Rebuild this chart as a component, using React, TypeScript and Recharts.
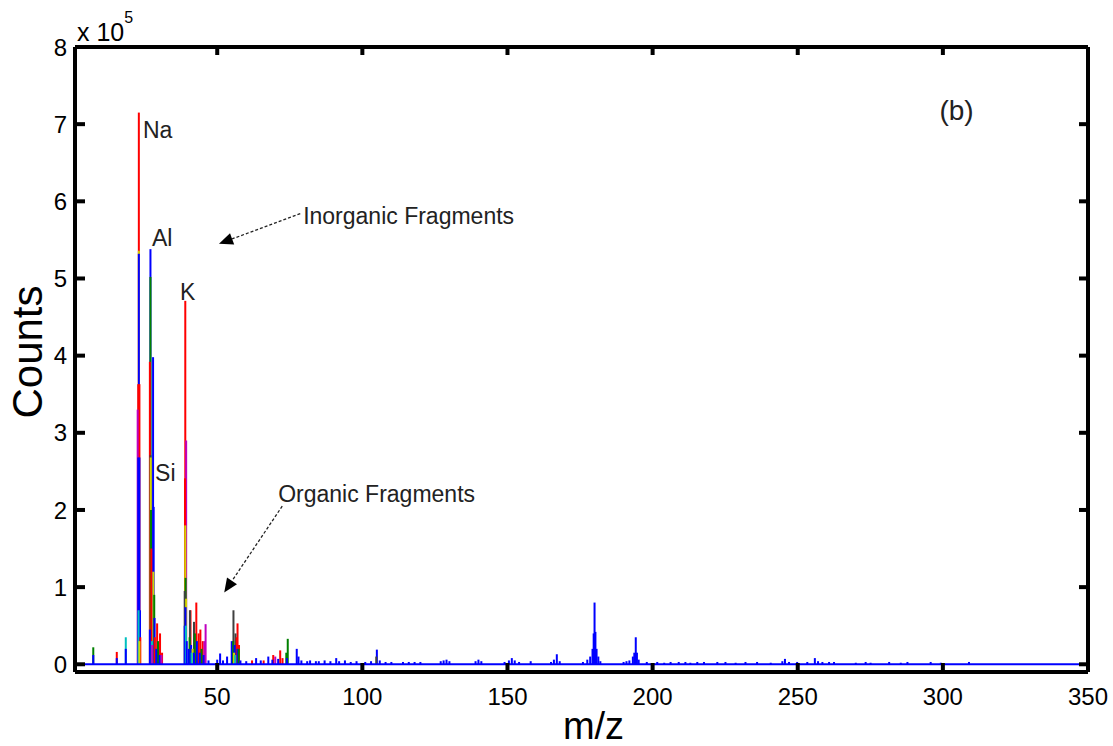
import React from 'react'
import { ComposedChart, Bar, Line, Cell, XAxis, YAxis, ReferenceLine, ReferenceDot, Label } from 'recharts'

// overlaid spectra, one list per trace colour: [m/z, counts / 1e5]
const bluePeaks: [number, number][] = [
  [7.3, 0.12], [15.4, 0.08], [18.5, 0.2], [22.8, 2.68], [23, 5.32], [23.2, 2.68], [23.4, 0.7],
  [26.8, 0.45], [27, 5.38], [27.9, 3.98], [28.1, 2.04], [28.4, 0.6], [29, 0.2], [30.2, 0.12],
  [38.8, 0.5], [39.1, 0.74], [39.5, 0.3], [40.2, 0.2], [41, 0.25], [42, 0.15], [43, 0.3], [44, 0.15],
  [45.3, 0.12], [47, 0.05], [50, 0.06], [51, 0.14], [52, 0.05], [53.4, 0.1], [55, 0.3], [56, 0.25],
  [57, 0.2], [58, 0.05], [60, 0.04], [63.4, 0.08], [65, 0.05], [67.6, 0.1], [69, 0.06], [71, 0.07],
  [74, 0.08], [77.4, 0.2], [78, 0.1], [79, 0.05], [81, 0.04], [82, 0.05], [84, 0.04], [85, 0.04],
  [87, 0.05], [89, 0.04], [91, 0.08], [92, 0.04], [94, 0.05], [96, 0.03], [98, 0.04], [101, 0.03],
  [103, 0.04], [105, 0.19], [106, 0.05], [108, 0.03], [110, 0.03], [114, 0.03], [116, 0.03],
  [118, 0.03], [120, 0.03], [127, 0.04], [128, 0.05], [129, 0.06], [130, 0.04], [139, 0.04],
  [140, 0.06], [141, 0.04], [149, 0.03], [150.5, 0.05], [151.5, 0.08], [152.5, 0.05], [154, 0.03],
  [158, 0.04], [165, 0.03], [166, 0.06], [167, 0.13], [168, 0.04], [176, 0.03], [177.5, 0.06],
  [178.5, 0.1], [179.3, 0.2], [179.7, 0.4], [180, 0.8], [180.3, 0.42], [180.7, 0.2], [181.3, 0.1],
  [182, 0.04], [190, 0.03], [191, 0.04], [192, 0.05], [193.2, 0.1], [193.7, 0.15], [194.2, 0.35],
  [194.6, 0.15], [195.2, 0.06], [198, 0.03], [201.6, 0.03], [204, 0.02], [206.2, 0.03], [209, 0.03],
  [211.3, 0.03], [213, 0.02], [215.4, 0.03], [217.7, 0.03], [222.3, 0.03], [225.1, 0.03],
  [228.6, 0.02], [232, 0.03], [236, 0.03], [240.7, 0.02], [244.7, 0.04], [245.6, 0.07], [247, 0.03],
  [249.8, 0.03], [253.3, 0.03], [255.9, 0.08], [257, 0.04], [258.5, 0.03], [260.8, 0.03],
  [262.5, 0.03], [270, 0.02], [273.4, 0.03], [275.1, 0.02], [281.5, 0.03], [285.5, 0.02],
  [287.8, 0.03], [295.8, 0.03], [299.3, 0.02], [309, 0.03],
]
const redPeaks: [number, number][] = [
  [15.4, 0.16], [23, 7.15], [22.8, 3.63], [23.2, 3.63], [23.5, 0.35], [26.8, 3.92], [27.3, 1.5],
  [28.5, 0.35], [29.3, 0.53], [30.3, 0.4], [31, 0.15], [38.9, 2.41], [39, 4.71], [40.8, 0.7],
  [42.8, 0.8], [43.6, 0.4], [44.2, 0.45], [45, 0.3], [56.7, 0.35], [57, 0.53], [57.5, 0.25],
  [62, 0.05], [66, 0.05], [69.3, 0.12], [71.7, 0.18], [72.5, 0.08],
]
const greenPeaks: [number, number][] = [
  [7.3, 0.22], [27, 5.02], [27.2, 2.0], [28.3, 0.9], [29.6, 0.3], [39.1, 1.12], [40.5, 0.35],
  [42.3, 0.4], [44.6, 0.2], [55.5, 0.3], [57.4, 0.2], [73.8, 0.15], [74.3, 0.33],
]
const yellowPeaks: [number, number][] = [
  [23, 5.36], [23.2, 0.3], [27.1, 2.68], [28, 1.2], [39, 1.8], [39.3, 0.85], [41.5, 0.2], [55.8, 0.15],
]
const magentaPeaks: [number, number][] = [
  [22.6, 3.3], [27.6, 0.25], [30.8, 0.12], [39.3, 2.9], [45.6, 0.3], [46, 0.52], [70, 0.1],
]
const cyanPeaks: [number, number][] = [
  [18.5, 0.35], [22.9, 0.7], [27.5, 0.3], [39.2, 0.5], [41.2, 0.15], [56.2, 0.12],
]
const darkPeaks: [number, number][] = [
  [27, 2.71], [38.8, 0.95], [40.6, 0.7], [42, 0.55], [55.6, 0.7], [56.3, 0.4], [104.8, 0.1],
]

const xTicks = [50, 100, 150, 200, 250, 300, 350]
const yTicks = [0, 1, 2, 3, 4, 5, 6, 7, 8].map(v => v * 1e5)
const X_MIN = 1, Y_MIN = -10000

const traces = [
  { color: '#0000ff', peaks: bluePeaks },
  { color: '#ff0000', peaks: redPeaks },
  { color: '#008000', peaks: greenPeaks },
  { color: '#d4d400', peaks: yellowPeaks },
  { color: '#bf00bf', peaks: magentaPeaks },
  { color: '#00bfbf', peaks: cyanPeaks },
  { color: '#404040', peaks: darkPeaks },
]

// tallest first so the shorter traces sit on top of them
const rows = traces
  .flatMap(t => t.peaks.map(([mz, v]) => ({ mz, counts: v * 1e5, color: t.color })))
  .sort((a, b) => b.counts - a.counts)

const labels = [
  { text: 'Na', mz: 24.4, y: 6.82, size: 23 },
  { text: 'Al', mz: 27.5, y: 5.42, size: 23 },
  { text: 'K', mz: 37.2, y: 4.72, size: 23 },
  { text: 'Si', mz: 28.6, y: 2.37, size: 23 },
  { text: '(b)', mz: 298.8, y: 7.06, size: 28 },
  { text: 'Inorganic Fragments', mz: 79.6, y: 5.71, size: 23 },
  { text: 'Organic Fragments', mz: 71, y: 2.1, size: 23 },
]
const arrows = [
  { from: [78.6, 5.84], to: [50.6, 5.45] },
  { from: [72.4, 2.05], to: [52.4, 0.93] },
]

const font = '"Liberation Sans", Arial, Helvetica, sans-serif'
const GAP = 16
const frame = { stroke: '#000', strokeWidth: 4 }

const BottomLabel = ({ x, y, payload }: any) => (
  <text x={x} y={y} dy="0.71em" textAnchor="middle" fontSize={24} fontFamily={font} fill="#000">{payload.value}</text>
)
const LeftLabel = ({ x, y, payload }: any) => (
  <text x={x} y={y} dy="0.36em" textAnchor="end" fontSize={24} fontFamily={font} fill="#000">{payload.value / 1e5}</text>
)
const TopMark = ({ x, y }: any) => <line x1={x} y1={y + GAP} x2={x} y2={y + GAP + 8} stroke="#000" strokeWidth={4} />
const RightMark = ({ x, y }: any) => <line x1={x - GAP} y1={y} x2={x - GAP - 9} y2={y} stroke="#000" strokeWidth={4} />

// inward tick marks on bottom / left edges, anchored at the domain minimum
const UpNotch = ({ cx, cy }: any) => <rect x={cx - 2} y={cy - 9} width={4} height={9} fill="#000" />
const RightNotch = ({ cx, cy }: any) => <rect x={cx} y={cy - 2} width={10} height={4} fill="#000" />

// draw each peak as a thin stem centred on its m/z
const Stem = ({ x, y, width, height, fill }: any) => {
  if (!height || height <= 0) return null
  return <rect x={x + width / 2 - 1} y={y} width={2} height={height} fill={fill} />
}

const Arrow = ({ x1, y1, x2, y2 }: any) => {
  const a = Math.atan2(y2 - y1, x2 - x1)
  const L = 14, W = 6
  const bx = x2 - L * Math.cos(a), by = y2 - L * Math.sin(a)
  const pts = `${x2},${y2} ${bx + W * Math.sin(a)},${by - W * Math.cos(a)} ${bx - W * Math.sin(a)},${by + W * Math.cos(a)}`
  return (
    <g>
      <line x1={x1} y1={y1} x2={bx} y2={by} stroke="#222" strokeWidth={1.3} strokeDasharray="3 2" />
      <polygon points={pts} fill="#000" />
    </g>
  )
}

export default function App() {
  return (
    <div style={{ position: 'absolute', left: 0, top: 0, width: 1113, height: 746, background: '#fff' }}>
      <ComposedChart width={1113} height={746} data={rows} margin={{ top: 46, right: 24, bottom: 0, left: 0 }}>
        <XAxis xAxisId="a" dataKey="mz" type="number" domain={[X_MIN, 350]} ticks={xTicks} interval={0} height={1}
          tick={false} tickLine={false} axisLine={frame} />
        <XAxis xAxisId="z" dataKey="mz" type="number" domain={[X_MIN, 350]} ticks={xTicks} interval={0} height={73}
          tickSize={0} tickMargin={GAP - 1} tick={<BottomLabel />} tickLine={false} axisLine={false}>
          <Label content={({ viewBox }: any) => (
            <text x={viewBox.x + viewBox.width / 2 + 12} y={viewBox.y + 66} textAnchor="middle" fontSize={38} fontFamily={font} fill="#000">m/z</text>
          )} />
        </XAxis>
        <XAxis xAxisId="top" dataKey="mz" orientation="top" type="number" domain={[X_MIN, 350]} ticks={xTicks} interval={0} height={1}
          tickSize={0} tickMargin={GAP} tick={<TopMark />} axisLine={frame} />
        <YAxis yAxisId="a" type="number" domain={[Y_MIN, 800000]} ticks={yTicks} interval={0} width={1}
          tick={false} tickLine={false} axisLine={frame} />
        <YAxis yAxisId="z" type="number" domain={[Y_MIN, 800000]} ticks={yTicks} interval={0} width={74}
          tickSize={0} tickMargin={7} tick={<LeftLabel />} tickLine={false} axisLine={false}>
          <Label content={({ viewBox }: any) => (
            <g>
              <text x={viewBox.x + 42} y={viewBox.y + 305} transform={`rotate(-90 ${viewBox.x + 42} ${viewBox.y + 305})`}
                textAnchor="middle" fontSize={42} fontFamily={font} fill="#000">Counts</text>
              <text x={viewBox.x + 77} y={viewBox.y - 6} fontSize={25} fontFamily={font} fill="#000">
                x 10<tspan fontSize={16} dy={-18}>5</tspan>
              </text>
            </g>
          )} />
        </YAxis>
        <YAxis yAxisId="right" orientation="right" type="number" domain={[Y_MIN, 800000]} ticks={yTicks} interval={0} width={1}
          tickSize={0} tickMargin={GAP} tick={<RightMark />} axisLine={frame} />
        <Bar xAxisId="a" yAxisId="a" dataKey="counts" barSize={2} shape={<Stem />} isAnimationActive={false}>
          {rows.map((r, i) => <Cell key={i} fill={r.color} />)}
        </Bar>
        {/* keep the other axes active */}
        <Line xAxisId="top" yAxisId="right" dataKey="counts" stroke="none" dot={false} activeDot={false} isAnimationActive={false} />
        <Line xAxisId="z" yAxisId="z" dataKey="counts" stroke="none" dot={false} activeDot={false} isAnimationActive={false} />
        <ReferenceLine xAxisId="a" yAxisId="a" y={0} stroke="#0000ff" strokeWidth={2} />
        {arrows.map((a, i) => (
          <ReferenceLine key={'a' + i} xAxisId="a" yAxisId="a"
            segment={[{ x: a.from[0], y: a.from[1] * 1e5 }, { x: a.to[0], y: a.to[1] * 1e5 }]}
            shape={(p: any) => <Arrow {...p} />} />
        ))}
        {labels.map(l => (
          <ReferenceDot key={l.text} xAxisId="a" yAxisId="a" x={l.mz} y={l.y * 1e5} r={0}
            shape={(p: any) => (
              <text x={p.cx} y={p.cy} fontSize={l.size} fontFamily={font} fill="#222">{l.text}</text>
            )} />
        ))}
        {xTicks.map(t => (
          <ReferenceDot key={'bx' + t} xAxisId="a" yAxisId="a" x={t} y={Y_MIN} r={1} ifOverflow="visible"
            shape={(p: any) => <UpNotch {...p} />} />
        ))}
        {yTicks.map(t => (
          <ReferenceDot key={'ly' + t} xAxisId="a" yAxisId="a" x={X_MIN} y={t} r={1} ifOverflow="visible"
            shape={(p: any) => <RightNotch {...p} />} />
        ))}
      </ComposedChart>
    </div>
  )
}
